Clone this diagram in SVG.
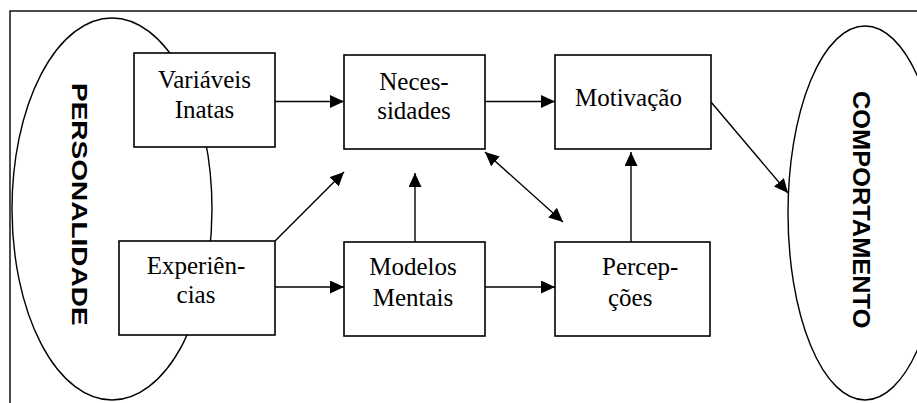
<svg xmlns="http://www.w3.org/2000/svg" width="917" height="403" viewBox="0 0 917 403">
  <style>
    .frame { fill: none; stroke: #000; stroke-width: 1.4; }
    .oval { fill: none; stroke: #000; stroke-width: 1.4; }
    .box { fill: #fff; stroke: #000; stroke-width: 1.6; }
    .lbl { font-family: "Liberation Serif", "Times New Roman", serif; font-size: 25px; fill: #000; }
    .side { font-family: "Liberation Sans", Arial, sans-serif; font-weight: bold; fill: #000; }
    .conn line { stroke: #000; stroke-width: 1.4; }
  </style>
  <defs>
    <marker id="arrow" markerUnits="userSpaceOnUse" markerWidth="14" markerHeight="13" refX="14" refY="6.5" orient="auto-start-reverse">
      <path d="M0,0 L14,6.5 L0,13 Z" fill="#000"/>
    </marker>
  </defs>

  <rect width="917" height="403" fill="#fff"/>
  <!-- outer frame (right and bottom sides run past the page edge) -->
  <rect class="frame" x="10" y="11" width="960" height="460"/>

  <!-- side ovals with vertical titles -->
  <g id="personalidade">
    <ellipse class="oval" cx="112" cy="209" rx="100" ry="191"/>
    <text class="side" font-size="28" transform="translate(72,83) rotate(90) scale(1,0.8)">PERSONALIDADE</text>
  </g>
  <g id="comportamento">
    <ellipse class="oval" cx="865" cy="213" rx="77" ry="187"/>
    <text class="side" font-size="25.4" transform="translate(853,91) rotate(90) scale(1,0.92)">COMPORTAMENTO</text>
  </g>

  <!-- connectors -->
  <g id="connectors" class="conn">
    <line x1="275" y1="101.5" x2="344" y2="101.5" marker-end="url(#arrow)"/>
    <line x1="485" y1="101.5" x2="555" y2="101.5" marker-end="url(#arrow)"/>
    <line x1="275" y1="287" x2="344" y2="287" marker-end="url(#arrow)"/>
    <line x1="485" y1="287" x2="555" y2="287" marker-end="url(#arrow)"/>
    <line x1="275" y1="241" x2="344" y2="172" marker-end="url(#arrow)"/>
    <line x1="415" y1="242" x2="415" y2="173" marker-end="url(#arrow)"/>
    <line x1="485" y1="152" x2="563" y2="222" marker-start="url(#arrow)" marker-end="url(#arrow)"/>
    <line x1="631" y1="242" x2="631" y2="152" marker-end="url(#arrow)"/>
    <line x1="711" y1="102" x2="788" y2="193" marker-end="url(#arrow)"/>
  </g>

  <!-- boxes -->
  <g id="variaveis-inatas">
    <rect class="box" x="134" y="53" width="141" height="94"/>
    <text class="lbl" x="204.5" y="88" text-anchor="middle">Variáveis</text>
    <text class="lbl" x="204.5" y="118" text-anchor="middle">Inatas</text>
  </g>
  <g id="necessidades">
    <rect class="box" x="344" y="55" width="141" height="94"/>
    <text class="lbl" x="414" y="90" text-anchor="middle">Neces-</text>
    <text class="lbl" x="414" y="119" text-anchor="middle">sidades</text>
  </g>
  <g id="motivacao">
    <rect class="box" x="555" y="55" width="156" height="94"/>
    <text class="lbl" x="575" y="106">Motivação</text>
  </g>
  <g id="experiencias">
    <rect class="box" x="119" y="241" width="156" height="94"/>
    <text class="lbl" x="196" y="274" text-anchor="middle">Experiên-</text>
    <text class="lbl" x="196" y="303" text-anchor="middle">cias</text>
  </g>
  <g id="modelos-mentais">
    <rect class="box" x="344" y="242" width="141" height="94"/>
    <text class="lbl" x="413" y="275" text-anchor="middle">Modelos</text>
    <text class="lbl" x="413" y="306" text-anchor="middle">Mentais</text>
  </g>
  <g id="percepcoes">
    <rect class="box" x="555" y="242" width="155" height="94"/>
    <text class="lbl" x="602" y="275">Percep-</text>
    <text class="lbl" x="608" y="306">ções</text>
  </g>
</svg>
